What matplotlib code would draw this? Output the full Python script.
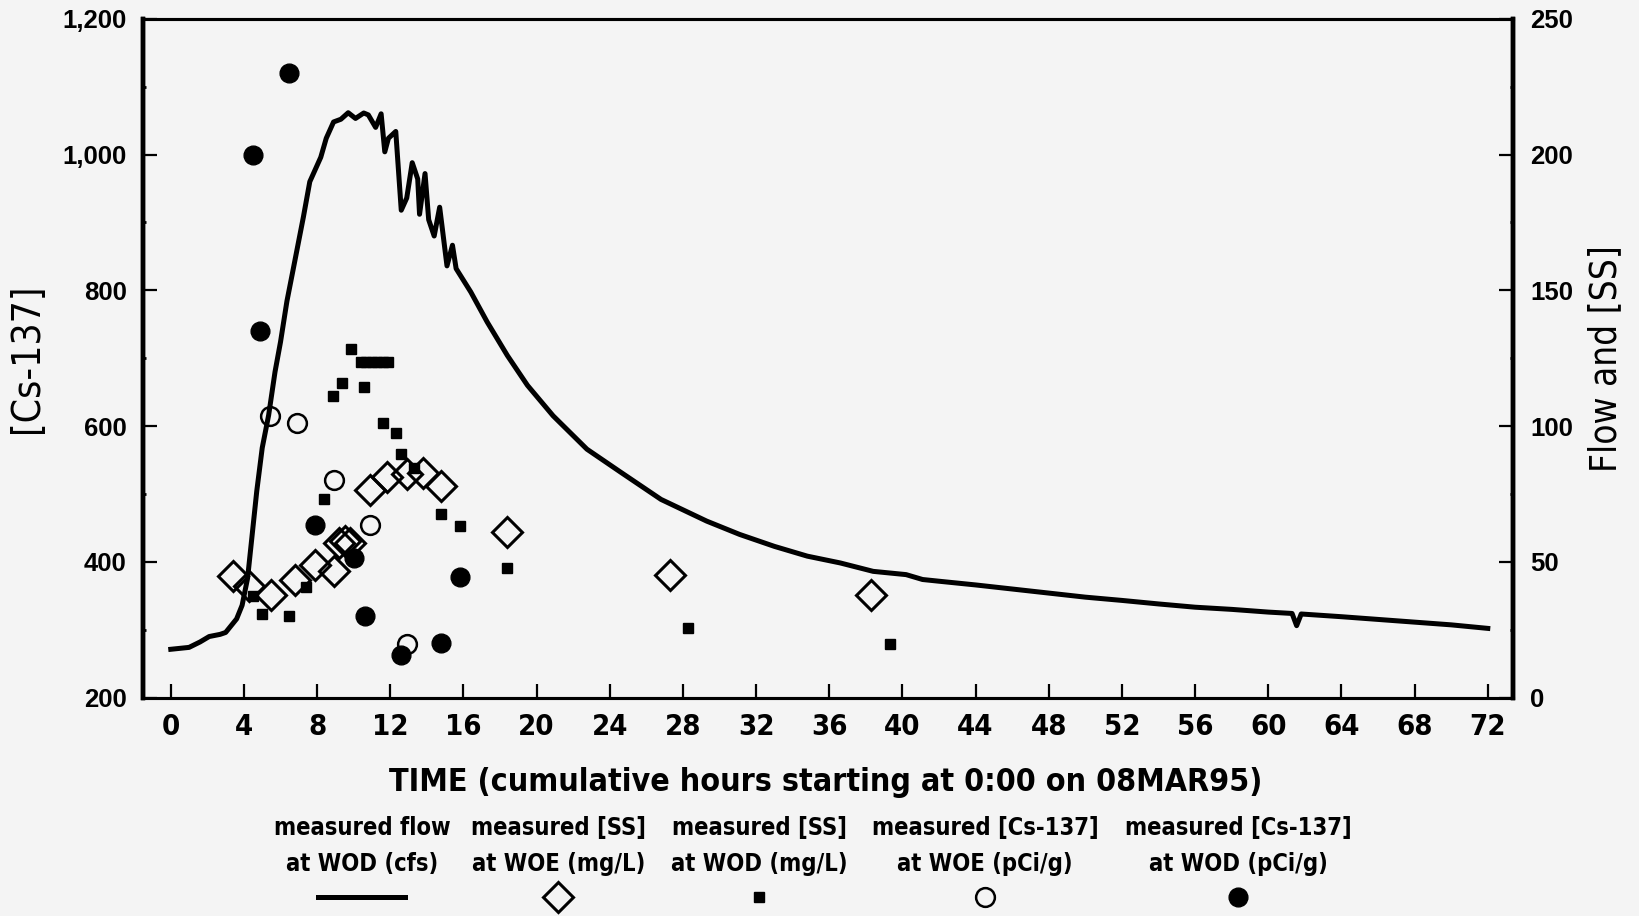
import os
import matplotlib
matplotlib.use('Agg')
import matplotlib.pyplot as plt
from matplotlib import font_manager
from matplotlib.font_manager import FontProperties
from matplotlib.lines import Line2D
from matplotlib.ticker import MultipleLocator, FuncFormatter

BG = '#f4f4f4'

# measured flow at WOD (cfs), right axis
flow_hours = [0, 1, 1.6, 2.1, 2.7, 3.0, 3.6, 3.9, 4.2, 4.45, 4.7, 5.0, 5.35, 5.7,
              6.0, 6.35, 6.7, 7.25, 7.6, 8.2, 8.5, 8.9, 9.3, 9.7, 10.1, 10.55,
              10.8, 11.2, 11.5, 11.7, 11.9, 12.3, 12.6, 12.9, 13.2, 13.5, 13.6,
              13.9, 14.1, 14.4, 14.7, 15.1, 15.4, 15.6, 16.4, 17.3, 18.4, 19.5,
              20.9, 22.75, 24.6, 26.8, 29.3, 31.1, 33.0, 34.8, 36.6, 38.4, 40.2,
              41.1, 42.1, 44, 46, 48, 50, 52, 54, 56, 58, 60, 61.3, 61.55, 61.8,
              64, 66, 68, 70, 72]
flow_cfs = [17.8, 18.5, 20.5, 22.5, 23.3, 24, 29, 34, 44, 60, 76, 92, 104, 120,
            131, 146, 158, 177, 190, 199, 206, 212, 213, 215.4, 213.3, 215.3,
            214.6, 210, 215, 201, 206, 208.5, 179.5, 184, 197, 191, 178,
            193, 176, 170, 180.6, 159, 166.6, 158, 149.4, 138.3, 126, 115,
            103.8, 91.5, 83, 73, 65, 60.1, 55.7, 52.1, 49.6, 46.5, 45.3,
            43.5, 42.8, 41.5, 40, 38.5, 37, 35.8, 34.5, 33.3, 32.5, 31.5, 31, 26.5, 30.8,
            29.8, 28.8, 27.8, 26.8, 25.5]

# measured [SS] at WOE (mg/L), right axis
ss_woe_hours = [3.4, 4.25, 5.5, 6.8, 7.9, 8.9, 9.2, 9.5, 9.8, 10.9, 11.8, 12.9,
                13.8, 14.8, 18.4, 27.3, 38.3]
ss_woe = [44.7, 41, 37.9, 43.5, 49, 46.5, 57, 57.5, 57, 76.5, 81.4, 82.2,
          82.8, 77.8, 61, 45.3, 37.7]

# measured [SS] at WOD (mg/L), right axis
ss_wod_hours = [4.5, 5.0, 6.45, 7.4, 8.35, 8.85, 9.35, 9.85, 10.4, 10.7, 11.0,
                11.3, 11.6, 11.9, 10.55, 11.6, 12.3, 12.6, 13.3, 14.8, 15.8,
                18.4, 28.3, 39.3]
ss_wod = [37.6, 30.9, 30.1, 40.8, 73, 111.2, 115.9, 128.4, 123.5, 123.5, 123.5,
          123.5, 123.5, 123.5, 114.3, 101, 97.6, 89.6, 84.6, 67.5, 63.1,
          47.8, 25.8, 19.7]

# measured [Cs-137] at WOE (pCi/g), left axis
cs_woe_hours = [5.4, 6.9, 8.9, 10.9, 12.9]
cs_woe = [615, 605, 521, 455, 279]

# measured [Cs-137] at WOD (pCi/g), left axis
cs_wod_hours = [4.5, 6.45, 4.9, 7.9, 10.0, 10.6, 12.6, 14.8, 15.8]
cs_wod = [1000, 1120, 740, 455, 405, 320, 263, 280, 378]

legend_lines1 = ['measured flow', 'measured [SS]', 'measured [SS]',
                 'measured [Cs-137]', 'measured [Cs-137]']
legend_lines2 = ['at WOD (cfs)', 'at WOE (mg/L)', 'at WOD (mg/L)',
                 'at WOE (pCi/g)', 'at WOD (pCi/g)']


def narrow_font(bold, size):
    # look for a condensed sans face on disk, else plain Liberation Sans
    for f in font_manager.fontManager.ttflist:
        base = os.path.basename(f.fname)
        if not ('Narrow' in base or 'Condensed' in base):
            continue
        if any(k in base for k in ('Italic', 'Oblique', 'Light', 'Thin', 'Semi', 'Extra', 'Medium', 'Black')):
            continue
        if bold == ('Bold' in base):
            return FontProperties(fname=f.fname, size=size)
    return FontProperties(family='Liberation Sans', size=size,
                          weight='bold' if bold else 'normal')


fig = plt.figure(figsize=(16.4, 9.16), dpi=100, facecolor=BG)
ax = fig.add_axes([0.0874, 0.2384, 0.8354, 0.7411], facecolor=BG)
ax2 = ax.twinx()

# left axis: Cs-137
ax.plot(cs_woe_hours, cs_woe, linestyle='none', marker='o', markersize=13.5,
        markerfacecolor='none', markeredgecolor='black', markeredgewidth=1.8, zorder=3)
ax.plot(cs_wod_hours, cs_wod, linestyle='none', marker='o', markersize=13.5,
        markerfacecolor='black', markeredgecolor='black', zorder=3)

# right axis: SS and flow
ax2.plot(ss_woe_hours, ss_woe, linestyle='none', marker='D', markersize=15.5,
         markerfacecolor='none', markeredgecolor='black', markeredgewidth=2.2, zorder=2)
ax2.plot(ss_wod_hours, ss_wod, linestyle='none', marker='s', markersize=7.5,
         markerfacecolor='black', markeredgecolor='black', zorder=2)
ax2.plot(flow_hours, flow_cfs, color='black', linewidth=3.6,
         solid_joinstyle='round', zorder=4)

ax.set_xlim(-1.5, 73.4)
ax.set_ylim(200, 1200)
ax2.set_ylim(0, 250)

ax.set_xticks(range(0, 73, 4))
ax.yaxis.set_major_locator(MultipleLocator(200))
ax.yaxis.set_minor_locator(MultipleLocator(100))
ax2.yaxis.set_major_locator(MultipleLocator(50))
ax2.yaxis.set_minor_locator(MultipleLocator(25))
ax.yaxis.set_major_formatter(FuncFormatter(lambda v, p: f'{int(v):,}'))

ax.tick_params(axis='x', direction='in', length=10, width=1.6, pad=11, top=False)
ax.tick_params(axis='y', which='major', direction='in', length=10, width=1.6,
               pad=12, right=False)
ax.tick_params(axis='y', which='minor', direction='in', length=2, width=2, right=False)
ax2.tick_params(axis='y', which='major', direction='in', length=10, width=1.6,
                pad=12, left=False)
ax2.tick_params(axis='y', which='minor', direction='in', length=2, width=2, left=False)

for lab in ax.get_xticklabels():
    lab.set_fontproperties(narrow_font(True, 21))
for lab in ax.get_yticklabels() + ax2.get_yticklabels():
    lab.set_fontproperties(FontProperties(family='Liberation Sans', size=18.5, weight='bold'))

for a in (ax, ax2):
    for side in ('top', 'bottom'):
        a.spines[side].set_linewidth(2.2)
    a.spines['left'].set_linewidth(3.2)
    a.spines['right'].set_linewidth(3.2)

ax.set_ylabel('[Cs-137]', fontproperties=narrow_font(False, 28))
ax.yaxis.set_label_coords(-0.071, 0.5)
ax2.set_ylabel('Flow and [SS]', fontproperties=narrow_font(False, 26.5), rotation=90)
ax2.yaxis.set_label_coords(1.054, 0.5)
ax.set_xlabel('TIME (cumulative hours starting at 0:00 on 08MAR95)',
              fontproperties=narrow_font(True, 23))
ax.xaxis.set_label_coords(0.498, -0.102)

# legend below the chart: two text lines over each key
col_x = [0.2207, 0.3405, 0.463, 0.6007, 0.7551]
for cx, l1, l2 in zip(col_x, legend_lines1, legend_lines2):
    fig.text(cx, 0.0956, l1, ha='center', va='center', fontproperties=narrow_font(True, 17))
    fig.text(cx, 0.0569, l2, ha='center', va='center', fontproperties=narrow_font(True, 17))

key_y = 0.0203
fig.add_artist(Line2D([col_x[0] - 0.0265, col_x[0] + 0.0265], [key_y, key_y],
                      color='black', linewidth=3.6, transform=fig.transFigure))
key_styles = [dict(marker='D', markersize=15.5, markerfacecolor='none', markeredgewidth=2.2),
              dict(marker='s', markersize=7.5, markerfacecolor='black'),
              dict(marker='o', markersize=13.5, markerfacecolor='none', markeredgewidth=1.8),
              dict(marker='o', markersize=13.5, markerfacecolor='black')]
for cx, st in zip(col_x[1:], key_styles):
    fig.add_artist(Line2D([cx], [key_y], linestyle='none', markeredgecolor='black',
                          transform=fig.transFigure, **st))

fig.savefig('out.png', dpi=100, facecolor=BG)
